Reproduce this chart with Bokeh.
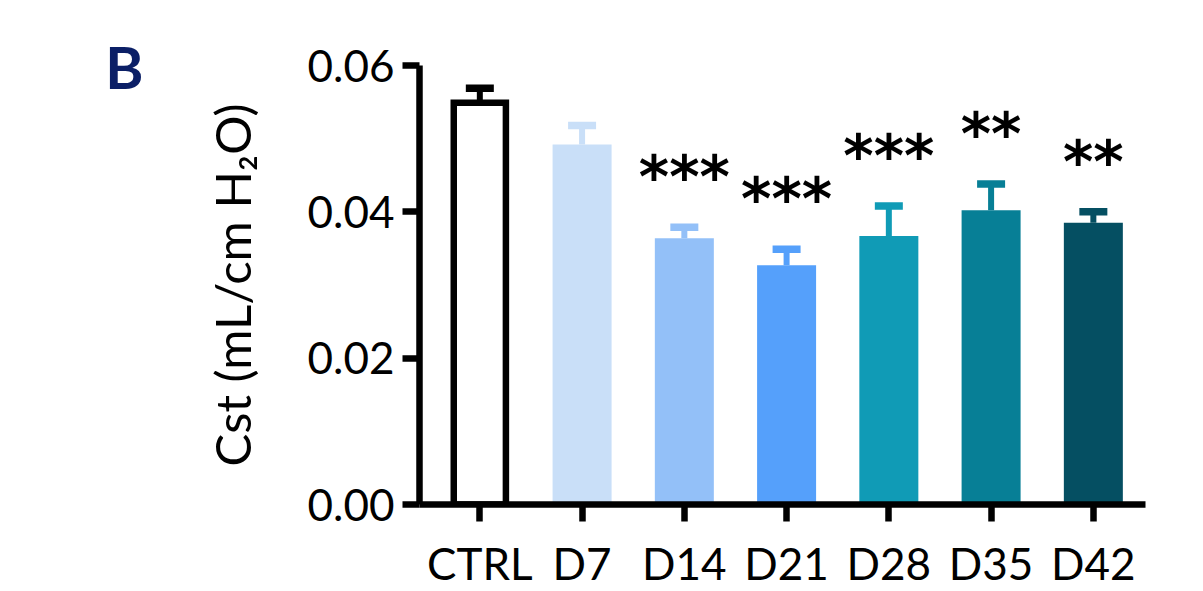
from bokeh.plotting import figure
from bokeh.models import ColumnDataSource, FixedTicker, Whisker, TeeHead, LinearAxis
from bokeh.core.properties import value
from bokeh.embed import file_html
from bokeh.resources import INLINE

categories = ["CTRL", "D7", "D14", "D21", "D28", "D35", "D42"]
means = [0.0549, 0.0492, 0.0364, 0.0327, 0.0367, 0.0402, 0.0385]
sems = [0.0020, 0.0026, 0.0015, 0.0022, 0.0041, 0.0036, 0.0015]
colors = ["#ffffff", "#c9dff8", "#93c0f8", "#55a0fb", "#109bb6", "#077f96", "#054f62"]
stars = ["", "", "***", "***", "***", "**", "**"]
y_ticks = [0.0, 0.02, 0.04, 0.06]
y_tick_labels = ["0.00", "0.02", "0.04", "0.06"]
panel_letter = "B"

FONT = "Lato"
xs = list(range(len(categories)))
uppers = [m + s for m, s in zip(means, sems)]

p = figure(width=1203, height=591, output_backend="svg", toolbar_location=None,
           x_range=(-0.59, 6.51), y_range=(0, 0.06),
           min_border_left=419, min_border_right=58, min_border_top=65, min_border_bottom=87)
p.outline_line_color = None
p.grid.visible = False
p.background_fill_color = None

src_col = ColumnDataSource(dict(x=xs[1:], top=means[1:], color=colors[1:]))
p.vbar(x="x", top="top", bottom=0, width=0.577, source=src_col,
       fill_color="color", line_color=None)
src_ctrl = ColumnDataSource(dict(x=xs[:1], top=means[:1]))
p.vbar(x="x", top="top", bottom=0, width=0.51, source=src_ctrl,
       fill_color="white", line_color="black", line_width=6.5, line_join="miter")

err_colors = ["black"] + colors[1:]
src_err = ColumnDataSource(dict(x=xs, lower=means, upper=uppers, color=err_colors))
w = Whisker(base="x", lower="lower", upper="upper", source=src_err, dimension="height",
            line_color="color", line_width=6,
            upper_head=TeeHead(size=28, line_width=7.5, line_color="black"),
            lower_head=None)
w.upper_head.line_color = {"field": "color"}
p.add_layout(w)

star_y = [u + 0.0068 for u in uppers]
src_star = ColumnDataSource(dict(x=xs, y=star_y, t=stars))
p.text(x="x", y="y", text="t", source=src_star, text_align="center",
       text_baseline="middle", text_font=value("DejaVu Sans"), text_font_style="bold",
       text_font_size="58px", text_color="black")

xax = p.xaxis[0]
yax = p.yaxis[0]
for ax in (xax, yax):
    ax.axis_line_width = 6.5
    ax.axis_line_color = "black"
    ax.major_tick_line_width = 6.5
    ax.major_tick_line_color = "black"
    ax.major_tick_out = 17
    ax.major_tick_in = 0
    ax.minor_tick_line_color = None
    ax.major_label_text_font = FONT
    ax.major_label_text_font_size = "44px"
    ax.major_label_text_color = "black"

xax.ticker = FixedTicker(ticks=xs)
xax.major_label_overrides = {i: c for i, c in zip(xs, categories)}
xax.major_label_standoff = 15

yax.ticker = FixedTicker(ticks=y_ticks)
yax.major_label_overrides = {t: l for t, l in zip(y_ticks, y_tick_labels)}
yax.major_label_standoff = 8
yax.axis_label = "Cst (mL/cm H\u2082O)"
yax.axis_label_text_font = FONT
yax.axis_label_text_font_style = "normal"
yax.axis_label_text_font_size = "49px"
yax.axis_label_text_color = "black"
yax.axis_label_standoff = 44

# panel letter drawn as the only tick label of an extra, invisible left axis
letter_pos = 0.0598
lax = LinearAxis(ticker=FixedTicker(ticks=[letter_pos]),
                 major_label_overrides={letter_pos: panel_letter},
                 axis_line_color=None, major_tick_line_color=None,
                 minor_tick_line_color=None, major_tick_out=0, major_tick_in=0,
                 major_label_standoff=56, major_label_text_font=FONT,
                 major_label_text_font_style="bold", major_label_text_font_size="58px",
                 major_label_text_color="#0b1f66")
p.add_layout(lax, "left")

open("out.html", "w").write(file_html(p, INLINE))
